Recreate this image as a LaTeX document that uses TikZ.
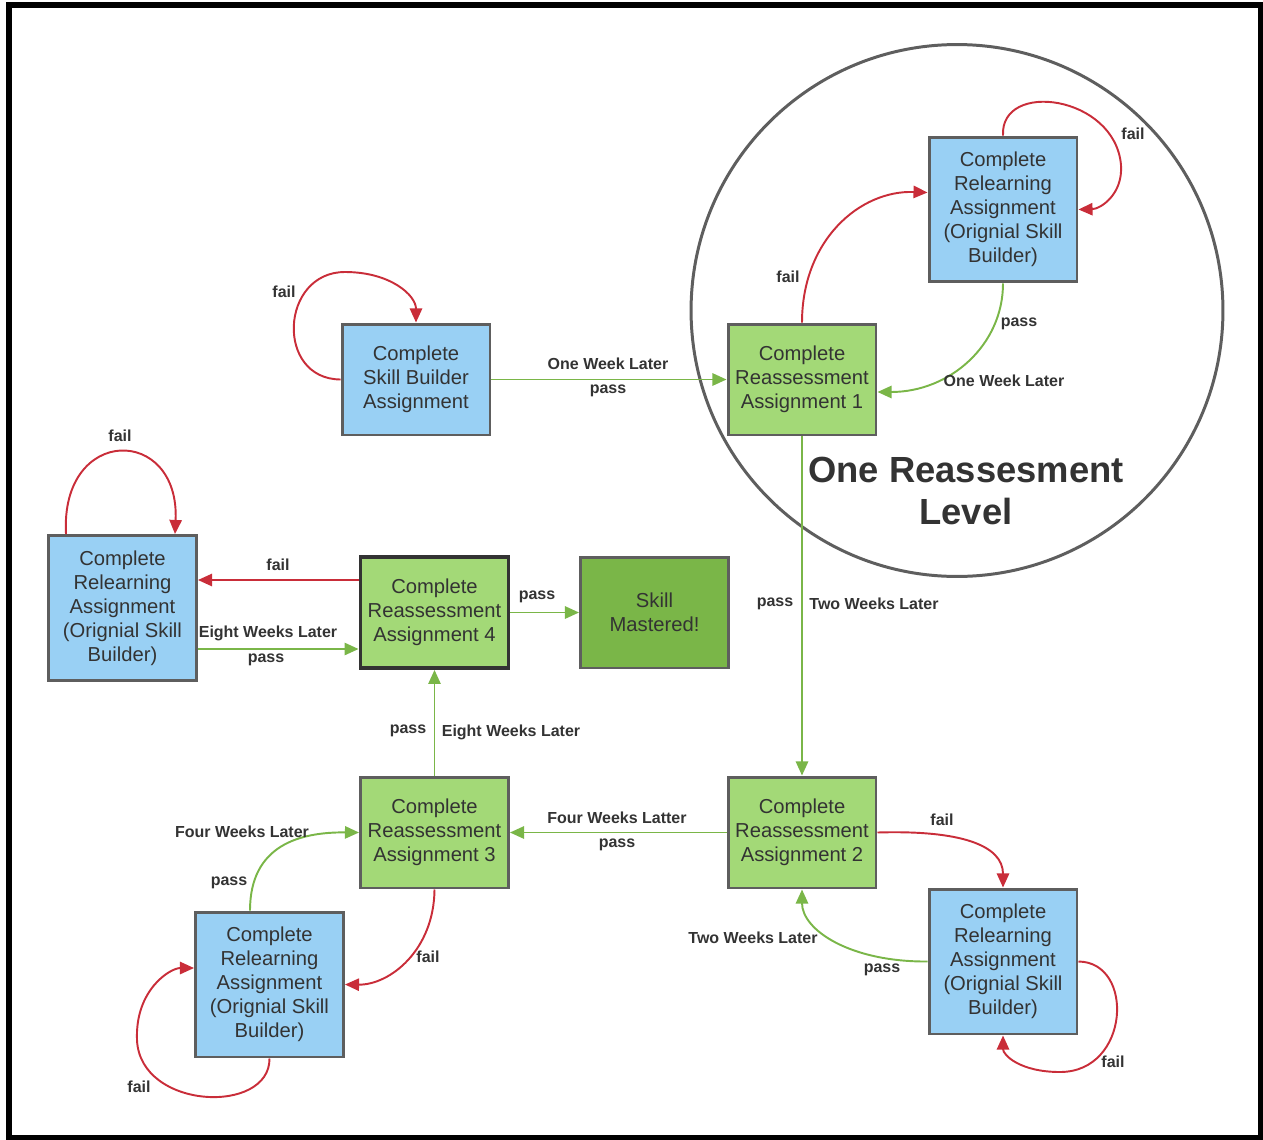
\documentclass[tikz,border=0pt]{standalone}
\usepackage{fontspec}
\setmainfont{Liberation Sans}
\usetikzlibrary{arrows.meta}
\definecolor{boxblue}{HTML}{99D0F4}
\definecolor{boxgreen}{HTML}{A3D977}
\definecolor{darkgreen}{HTML}{7AB648}
\definecolor{linegreen}{HTML}{7AB648}
\definecolor{linered}{HTML}{C92D39}
\definecolor{boxline}{HTML}{5E5E5E}
\definecolor{txt}{HTML}{333333}

\begin{document}
\begin{tikzpicture}
        [
        x=0.02cm, y=-0.02cm,
        box/.style={rectangle,draw=boxline,line width=1.7pt,minimum width=2.96cm,minimum height=2.22cm,
          align=center,text=txt,inner sep=0pt,font=\fontsize{11.5}{13.6}\selectfont},
        relearn/.style={box,fill=boxblue,minimum height=2.9cm},
        reassess/.style={box,fill=boxgreen},
        passline/.style={->,>={Triangle[length=8pt,width=7pt]},draw=linegreen,line width=1.1pt},
        failline/.style={passline,draw=linered},
        lbl/.style={text=txt,inner sep=1pt,font=\fontsize{9.1}{11}\selectfont\bfseries}
        ]
    \useasboundingbox (0,0) rectangle (1263,1139);
    \draw[line width=3.4pt] (9,5) rectangle (1260.5,1137.5);
    \draw[boxline,line width=1.7pt] (957,310.5) circle [radius=5.32cm];
    \node[text=txt,align=center,font=\fontsize{20.7}{24.4}\selectfont\bfseries] (level) at (966,491) {One Reassesment\\Level};
    % boxes
    \node[box,fill=boxblue] (sb) at (416,379.5) {Complete\\Skill Builder\\Assignment};
    \node[reassess] (r1) at (802,379.5) {Complete\\Reassessment\\Assignment 1};
    \node[relearn] (rt) at (1003,209.5) {Complete\\Relearning\\Assignment\\(Orignial Skill\\Builder)};
    \node[reassess] (r2) at (802,832.5) {Complete\\Reassessment\\Assignment 2};
    \node[relearn] (rb) at (1003,961.5) {Complete\\Relearning\\Assignment\\(Orignial Skill\\Builder)};
    \node[reassess] (r3) at (434.5,832.5) {Complete\\Reassessment\\Assignment 3};
    \node[relearn] (bl) at (269.5,984.5) {Complete\\Relearning\\Assignment\\(Orignial Skill\\Builder)};
    \node[reassess,draw=txt,line width=2.2pt] (r4) at (434.5,612.5) {Complete\\Reassessment\\Assignment 4};
    \node[relearn] (rl) at (122.5,608) {Complete\\Relearning\\Assignment\\(Orignial Skill\\Builder)};
    \node[box,fill=darkgreen] (done) at (654.5,612.5) {Skill\\Mastered!};
    % straight connectors
    \draw[passline] (sb) -- (r1);
    \draw[passline] (r1) -- (r2);
    \draw[passline] (r2) -- (r3);
    \draw[passline] (r3) -- (r4);
    \draw[passline] (r4) -- (done);
    \draw[failline] (r4.west |- 0,580) -- (rl.east |- 0,580);
    \draw[passline] (rl.east |- 0,649) -- (r4.west |- 0,649);
    % curved connectors
    \draw[failline] (sb.west) .. controls (275,379) and (280,272) .. (345,272)
        .. controls (390,272) and (416,295) .. (sb.north);
    \draw[failline] (r1.north) .. controls (802,240) and (860,190) .. ([yshift=0.34cm]rt.west);
    \draw[failline] (rt.north) .. controls (1000,80) and (1115,95) .. (1121,165)
        .. controls (1123,195) and (1100,209) .. (rt.east);
    \draw[passline] (rt.south) .. controls (1003,345) and (950,392) .. ([yshift=-0.25cm]r1.east);
    \draw[failline] (r2.east) .. controls (960,830) and (1003,845) .. (rb.north);
    \draw[passline] (rb.west) .. controls (850,962) and (802,930) .. (r2.south);
    \draw[failline] (rb.east) .. controls (1135,962) and (1130,1072) .. (1060,1072)
        .. controls (1020,1072) and (1003,1055) .. (rb.south);
    \draw[failline] (r3.south) .. controls (434,950) and (390,985) .. (bl.east);
    \draw[passline] ([xshift=-0.39cm]bl.north) .. controls (250,845) and (300,832) .. (r3.west);
    \draw[failline] (bl.south) .. controls (270,1115) and (140,1110) .. (137,1040)
        .. controls (135,990) and (170,968) .. ([yshift=0.33cm]bl.west);
    \draw[failline] ([xshift=-1.13cm]rl.north) .. controls (60,425) and (180,425) .. ([xshift=1.05cm]rl.north);
    % labels
    \node[lbl] (l1) at (608,364) {One Week Later};
    \node[lbl] (l2) at (608,391) {pass};
    \node[lbl] (l3) at (284,292) {fail};
    \node[lbl] (l4) at (788,277) {fail};
    \node[lbl] (l5) at (1133,134) {fail};
    \node[lbl] (l6) at (1019,324) {pass};
    \node[lbl] (l7) at (1004,381) {One Week Later};
    \node[lbl] (l8) at (775,604) {pass};
    \node[lbl] (l9) at (874,604) {Two Weeks Later};
    \node[lbl] (l10) at (942,820) {fail};
    \node[lbl] (l11) at (753,938) {Two Weeks Later};
    \node[lbl] (l12) at (882,970) {pass};
    \node[lbl] (l13) at (1113,1062) {fail};
    \node[lbl] (l14) at (617,818) {Four Weeks Latter};
    \node[lbl] (l15) at (617,845) {pass};
    \node[lbl] (l16) at (428,957) {fail};
    \node[lbl] (l17) at (229,883) {pass};
    \node[lbl] (l18) at (242,832) {Four Weeks Later};
    \node[lbl] (l19) at (139,1087) {fail};
    \node[lbl] (l20) at (408,731) {pass};
    \node[lbl] (l21) at (511,732) {Eight Weeks Later};
    \node[lbl] (l22) at (278,565) {fail};
    \node[lbl] (l23) at (268,633) {Eight Weeks Later};
    \node[lbl] (l24) at (266,660) {pass};
    \node[lbl] (l25) at (120,436) {fail};
    \node[lbl] (l26) at (537,597) {pass};
    \end{tikzpicture}
\end{document}
